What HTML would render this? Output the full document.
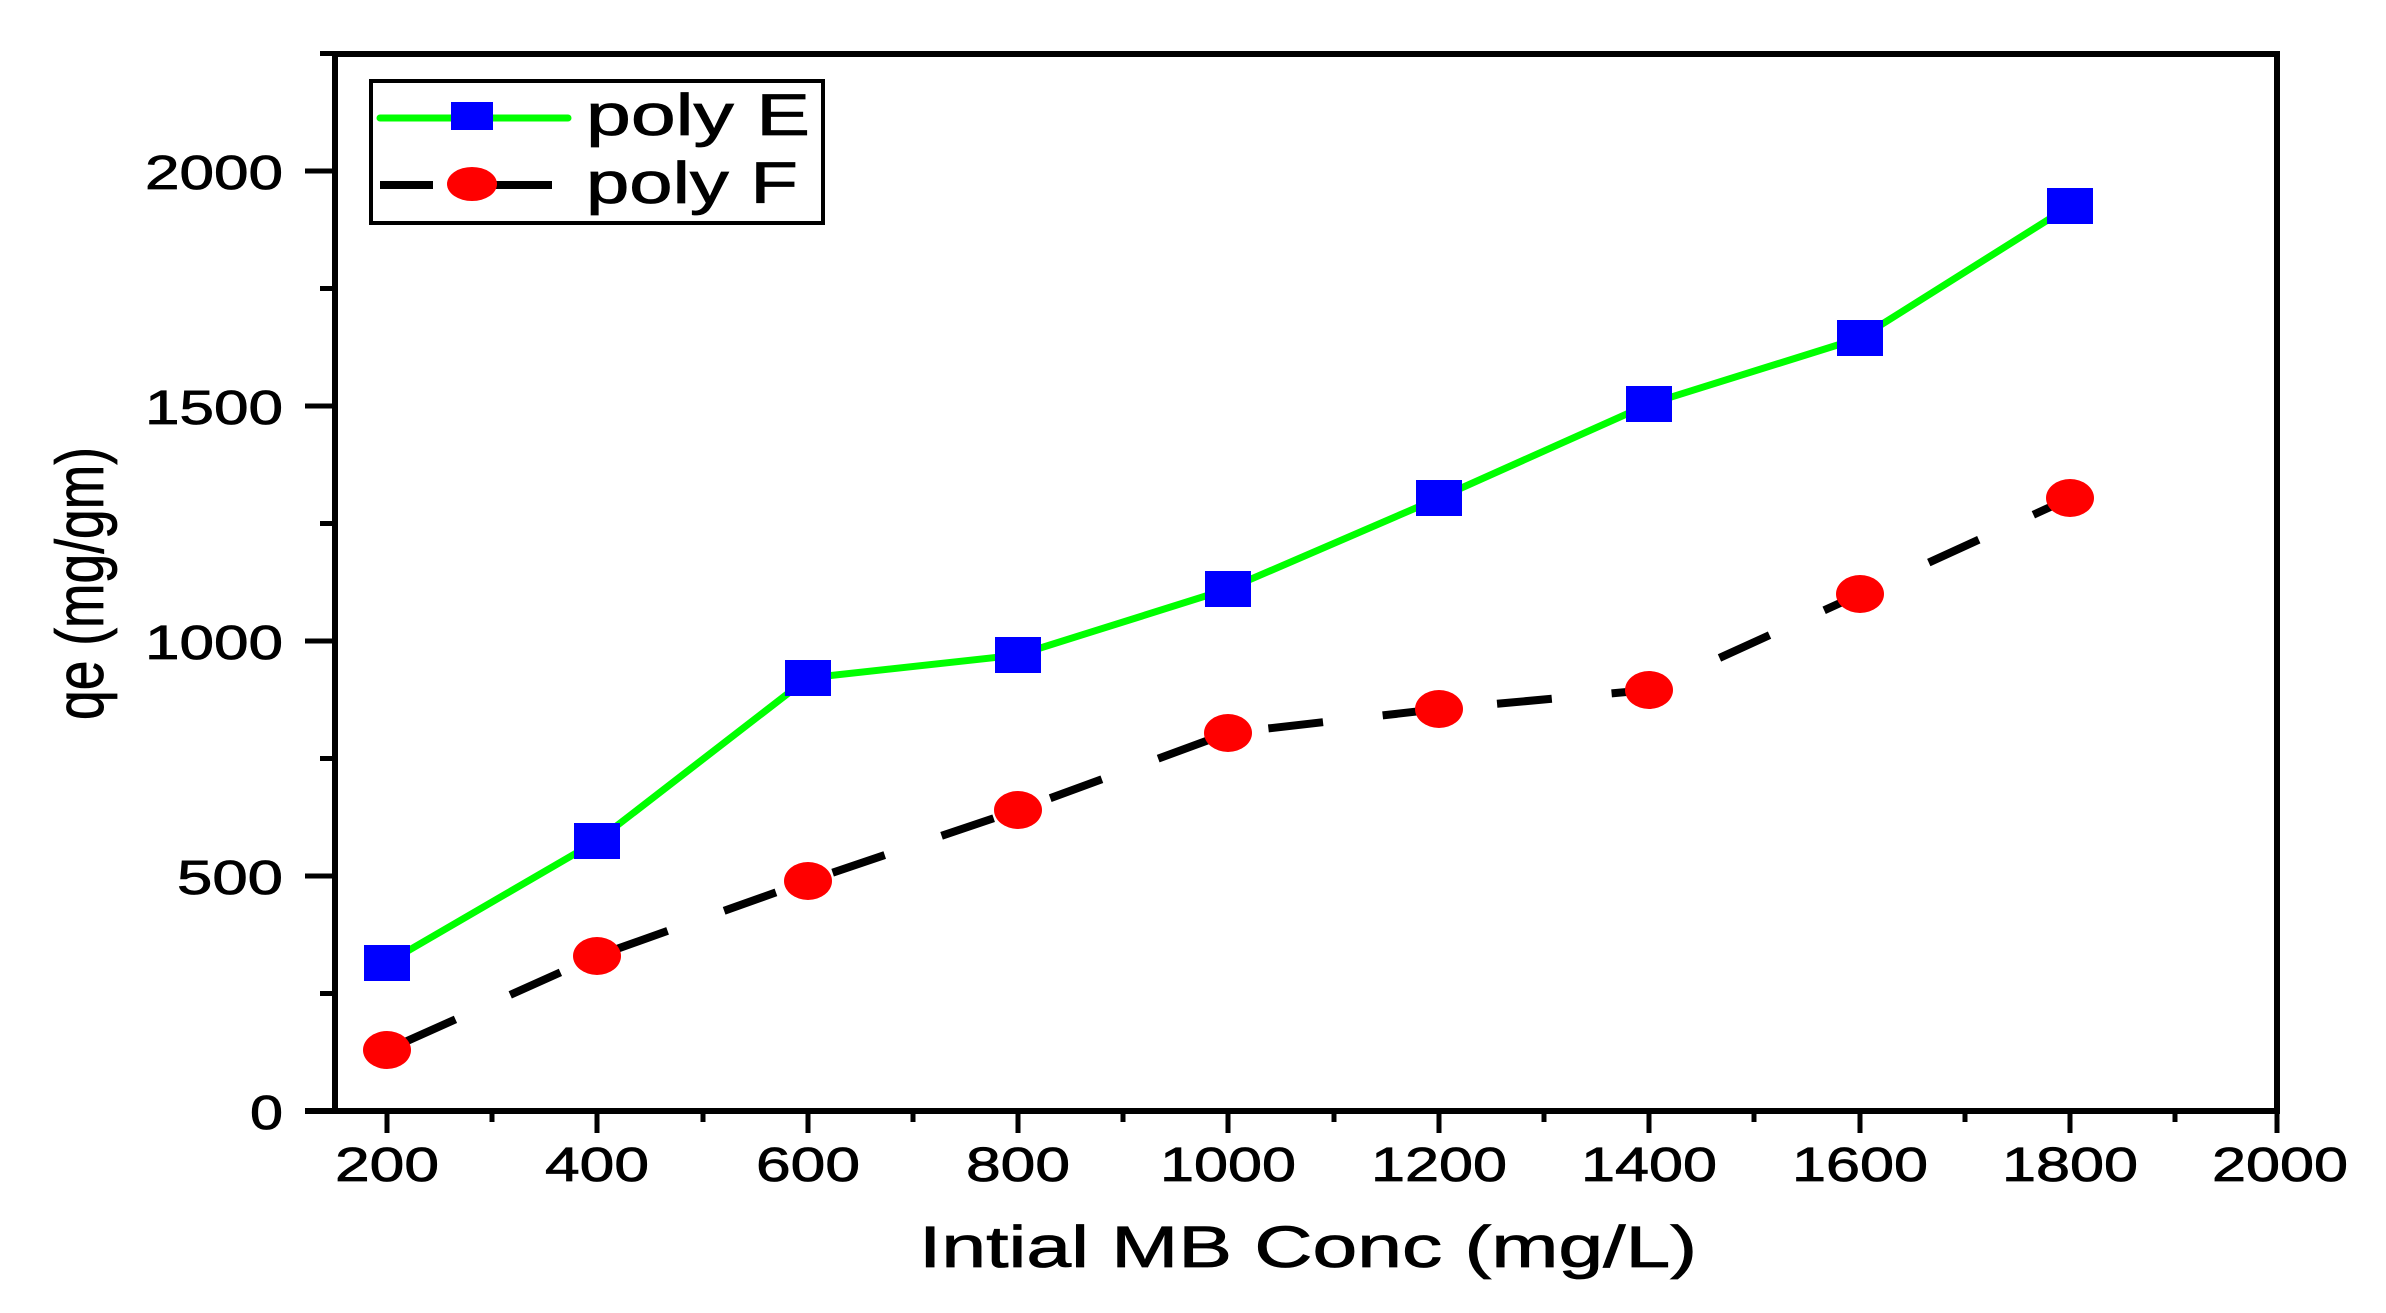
<!DOCTYPE html>
<html><head><meta charset="utf-8"><style>html,body{margin:0;padding:0;background:#fff}svg{display:block}</style></head>
<body>
<svg width="2386" height="1313" viewBox="0 0 2386 1313" xmlns="http://www.w3.org/2000/svg" font-family="Liberation Sans, Arial, sans-serif">
<rect width="2386" height="1313" fill="#fff"/>
<polyline points="335,54 2277,54 2277,1111" fill="none" stroke="#000" stroke-width="6"/>
<line x1="335" y1="52" x2="335" y2="1114" stroke="#000" stroke-width="6"/>
<line x1="305" y1="1111" x2="2280" y2="1111" stroke="#000" stroke-width="6"/>
<g stroke="#000" stroke-width="5">
<line x1="305" y1="1111" x2="335" y2="1111"/>
<line x1="320" y1="993.5" x2="335" y2="993.5"/>
<line x1="305" y1="876" x2="335" y2="876"/>
<line x1="320" y1="758.5" x2="335" y2="758.5"/>
<line x1="305" y1="641" x2="335" y2="641"/>
<line x1="320" y1="523.5" x2="335" y2="523.5"/>
<line x1="305" y1="406" x2="335" y2="406"/>
<line x1="320" y1="288.5" x2="335" y2="288.5"/>
<line x1="305" y1="171" x2="335" y2="171"/>
<line x1="320" y1="53.5" x2="335" y2="53.5"/>
</g>
<g stroke="#000" stroke-width="5">
<line x1="387" y1="1111" x2="387" y2="1133"/>
<line x1="492" y1="1111" x2="492" y2="1122"/>
<line x1="597" y1="1111" x2="597" y2="1133"/>
<line x1="703" y1="1111" x2="703" y2="1122"/>
<line x1="808" y1="1111" x2="808" y2="1133"/>
<line x1="913" y1="1111" x2="913" y2="1122"/>
<line x1="1018" y1="1111" x2="1018" y2="1133"/>
<line x1="1123" y1="1111" x2="1123" y2="1122"/>
<line x1="1228" y1="1111" x2="1228" y2="1133"/>
<line x1="1334" y1="1111" x2="1334" y2="1122"/>
<line x1="1439" y1="1111" x2="1439" y2="1133"/>
<line x1="1544" y1="1111" x2="1544" y2="1122"/>
<line x1="1649" y1="1111" x2="1649" y2="1133"/>
<line x1="1754" y1="1111" x2="1754" y2="1122"/>
<line x1="1860" y1="1111" x2="1860" y2="1133"/>
<line x1="1965" y1="1111" x2="1965" y2="1122"/>
<line x1="2070" y1="1111" x2="2070" y2="1133"/>
<line x1="2175" y1="1111" x2="2175" y2="1122"/>
<line x1="2277" y1="1111" x2="2277" y2="1133"/>
</g>
<g font-size="48" fill="#000" text-anchor="end" stroke="#000" stroke-width="0.8">
<text x="283" y="1129" textLength="33" lengthAdjust="spacingAndGlyphs">0</text>
<text x="283" y="894" textLength="106" lengthAdjust="spacingAndGlyphs">500</text>
<text x="283" y="659" textLength="138" lengthAdjust="spacingAndGlyphs">1000</text>
<text x="283" y="424" textLength="138" lengthAdjust="spacingAndGlyphs">1500</text>
<text x="283" y="189" textLength="138" lengthAdjust="spacingAndGlyphs">2000</text>
</g>
<g font-size="48" fill="#000" text-anchor="middle" stroke="#000" stroke-width="0.8">
<text x="387" y="1181" textLength="104" lengthAdjust="spacingAndGlyphs">200</text>
<text x="597" y="1181" textLength="104" lengthAdjust="spacingAndGlyphs">400</text>
<text x="808" y="1181" textLength="104" lengthAdjust="spacingAndGlyphs">600</text>
<text x="1018" y="1181" textLength="104" lengthAdjust="spacingAndGlyphs">800</text>
<text x="1228" y="1181" textLength="136" lengthAdjust="spacingAndGlyphs">1000</text>
<text x="1439" y="1181" textLength="136" lengthAdjust="spacingAndGlyphs">1200</text>
<text x="1649" y="1181" textLength="136" lengthAdjust="spacingAndGlyphs">1400</text>
<text x="1860" y="1181" textLength="136" lengthAdjust="spacingAndGlyphs">1600</text>
<text x="2070" y="1181" textLength="136" lengthAdjust="spacingAndGlyphs">1800</text>
<text x="2280" y="1181" textLength="136" lengthAdjust="spacingAndGlyphs">2000</text>
</g>
<text x="919" y="1267" font-size="58" textLength="778" lengthAdjust="spacingAndGlyphs" fill="#000" stroke="#000" stroke-width="0.8">Intial MB Conc (mg/L)</text>
<text transform="translate(103,720) rotate(-90)" font-size="68" textLength="273" lengthAdjust="spacingAndGlyphs" fill="#000" stroke="#000" stroke-width="0.8">qe (mg/gm)</text>
<polyline fill="none" stroke="#000" stroke-width="8" stroke-dasharray="55,60" stroke-dashoffset="-20"
 points="387,1050 597,956 808,881 1018,810 1228,733 1439,709 1649,690 1860,594 2070,498"/>
<polyline fill="none" stroke="#00ff00" stroke-width="7"
 points="387,963 597,841 808,678 1018,655 1228,589 1439,498 1649,404 1860,338 2070,206"/>
<g fill="#0000ff">
<rect x="364" y="945" width="46" height="36"/>
<rect x="574" y="823" width="46" height="36"/>
<rect x="785" y="660" width="46" height="36"/>
<rect x="995" y="637" width="46" height="36"/>
<rect x="1205" y="571" width="46" height="36"/>
<rect x="1416" y="480" width="46" height="36"/>
<rect x="1626" y="386" width="46" height="36"/>
<rect x="1837" y="320" width="46" height="36"/>
<rect x="2047" y="188" width="46" height="36"/>
</g>
<g fill="#ff0000">
<ellipse cx="387" cy="1050" rx="24" ry="19"/>
<ellipse cx="597" cy="956" rx="24" ry="19"/>
<ellipse cx="808" cy="881" rx="24" ry="19"/>
<ellipse cx="1018" cy="810" rx="24" ry="19"/>
<ellipse cx="1228" cy="733" rx="24" ry="19"/>
<ellipse cx="1439" cy="709" rx="24" ry="19"/>
<ellipse cx="1649" cy="690" rx="24" ry="19"/>
<ellipse cx="1860" cy="594" rx="24" ry="19"/>
<ellipse cx="2070" cy="498" rx="24" ry="19"/>
</g>
<rect x="371" y="81" width="452" height="142" fill="#fff" stroke="#000" stroke-width="4"/>
<line x1="380" y1="118" x2="568" y2="118" stroke="#00ff00" stroke-width="7" stroke-linecap="round"/>
<rect x="451" y="102" width="42" height="28" fill="#0000ff"/>
<line x1="380" y1="185" x2="433" y2="185" stroke="#000" stroke-width="8"/>
<line x1="495" y1="185" x2="552" y2="185" stroke="#000" stroke-width="8"/>
<ellipse cx="472" cy="184" rx="25" ry="17" fill="#ff0000"/>
<text x="586" y="135" font-size="58" textLength="224" lengthAdjust="spacingAndGlyphs" fill="#000" stroke="#000" stroke-width="0.8">poly E</text>
<text x="586" y="203" font-size="58" textLength="212" lengthAdjust="spacingAndGlyphs" fill="#000" stroke="#000" stroke-width="0.8">poly F</text>
</svg>
</body></html>
